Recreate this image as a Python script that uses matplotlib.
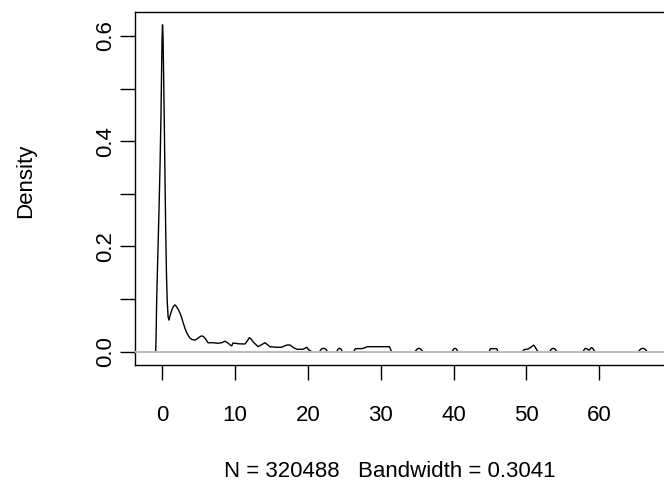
import matplotlib
matplotlib.use("Agg")
import matplotlib.pyplot as plt

# ---- data (density estimate) ----
main_x = [-0.91, -0.85, -0.77, -0.6, -0.45, -0.3, -0.18, -0.1, -0.04, 0.03,
          0.1, 0.19, 0.28, 0.37, 0.47, 0.57, 0.68, 0.8, 0.92, 1.06,
          1.3, 1.51, 1.74, 1.98, 2.2, 2.43, 2.65, 2.88, 3.1, 3.35,
          3.6, 3.8, 4.1, 4.49, 4.85, 5.18, 5.4, 5.63, 5.9, 6.1,
          6.28, 7.0, 7.6, 8.16, 8.61, 9.02, 9.3, 9.53, 9.71, 10.5,
          11.36, 11.7, 11.95, 12.2, 12.46, 13.15, 13.6, 14.11, 14.79, 15.71,
          16.4, 16.8, 17.13, 17.54, 17.95, 18.46, 19.33, 19.84, 20.15, 20.56]
main_y = [0.0, 0.03, 0.10, 0.19, 0.27, 0.36, 0.45, 0.53, 0.59, 0.621,
          0.60, 0.52, 0.43, 0.33, 0.23, 0.15, 0.095, 0.066, 0.060, 0.068,
          0.079, 0.0855, 0.089, 0.085, 0.080, 0.0735, 0.065, 0.0545, 0.045, 0.036,
          0.030, 0.026, 0.023, 0.022, 0.025, 0.0285, 0.030, 0.029, 0.025, 0.021,
          0.017, 0.017, 0.016, 0.017, 0.020, 0.0165, 0.013, 0.011, 0.0165, 0.015,
          0.0146, 0.021, 0.0266, 0.024, 0.019, 0.0095, 0.013, 0.017, 0.0095, 0.0084,
          0.0084, 0.011, 0.0127, 0.0127, 0.0084, 0.0046, 0.0046, 0.0084, 0.003, 0.0]

tail_x = [21.6, 21.85, 22.14, 22.45, 22.7,
          23.95, 24.15, 24.35, 24.55, 24.75,
          26.3, 26.5, 27.5, 28.2, 31.2, 31.5,
          34.7, 35.0, 35.25, 35.5, 35.8,
          39.8, 40.0, 40.2, 40.4, 40.6,
          44.9, 45.05, 45.95, 46.1,
          49.5, 49.7, 50.2, 50.6, 51.0, 51.2, 51.5, 51.65,
          53.2, 53.45, 53.7, 53.95, 54.2,
          57.8, 58.0, 58.2, 58.45, 58.65, 58.95, 59.15, 59.4,
          65.4, 65.7, 66.0, 66.3, 66.6,
          70.9]
tail_y = [0.0, 0.005, 0.0065, 0.005, 0.0,
          0.0, 0.005, 0.0065, 0.005, 0.0,
          0.0, 0.0055, 0.006, 0.0095, 0.0095, 0.0,
          0.0, 0.005, 0.0065, 0.005, 0.0,
          0.0, 0.005, 0.0065, 0.005, 0.0,
          0.0, 0.0057, 0.0057, 0.0,
          0.0, 0.004, 0.005, 0.008, 0.0125, 0.009, 0.002, 0.0,
          0.0, 0.005, 0.0065, 0.005, 0.0,
          0.0, 0.005, 0.0065, 0.004, 0.003, 0.008, 0.006, 0.0,
          0.0, 0.005, 0.0065, 0.005, 0.0,
          0.0]

x_ticks = [0, 10, 20, 30, 40, 50, 60]
x_tick_labels = ["0", "10", "20", "30", "40", "50", "60"]
y_ticks = [0.0, 0.1, 0.2, 0.3, 0.4, 0.5, 0.6]
y_tick_labels = ["0.0", "", "0.2", "", "0.4", "", "0.6"]
x_label = "N = 320488   Bandwidth = 0.3041"
y_label = "Density"

# ---- figure ----
plt.rcParams['font.family'] = ['Liberation Sans', 'DejaVu Sans']
FS = 16

fig = plt.figure(figsize=(6.64, 4.97), dpi=100)
ax = fig.add_axes([134.7 / 664, (497 - 365) / 497, (697.4 - 134.7) / 664, (365 - 11.7) / 497])

xs = main_x + tail_x
ys = main_y + tail_y
ax.plot(xs, ys, color='black', lw=1.0, zorder=2)
ax.axhline(0, color='#bebebe', lw=1.5, zorder=3)

ax.set_xlim(-3.79, 73.5)
ax.set_ylim(-0.0253, 0.646)

for s in ax.spines.values():
    s.set_linewidth(1.0)
    s.set_color('black')

ax.set_xticks(x_ticks)
ax.set_xticklabels(x_tick_labels, fontsize=FS)
ax.set_yticks(y_ticks)
ax.set_yticklabels(y_tick_labels, fontsize=FS, rotation=90, va='center')
ax.tick_params(axis='both', direction='out', length=10.5, width=1.0, colors='black')
ax.tick_params(axis='x', pad=18)
ax.tick_params(axis='y', pad=3)

ax.set_xlabel(x_label, fontsize=FS)
ax.xaxis.set_label_coords(0.454, -0.272)
ax.set_ylabel(y_label, fontsize=FS)
ax.yaxis.set_label_coords(-0.176, 0.52)

fig.savefig("out.png", dpi=100)
